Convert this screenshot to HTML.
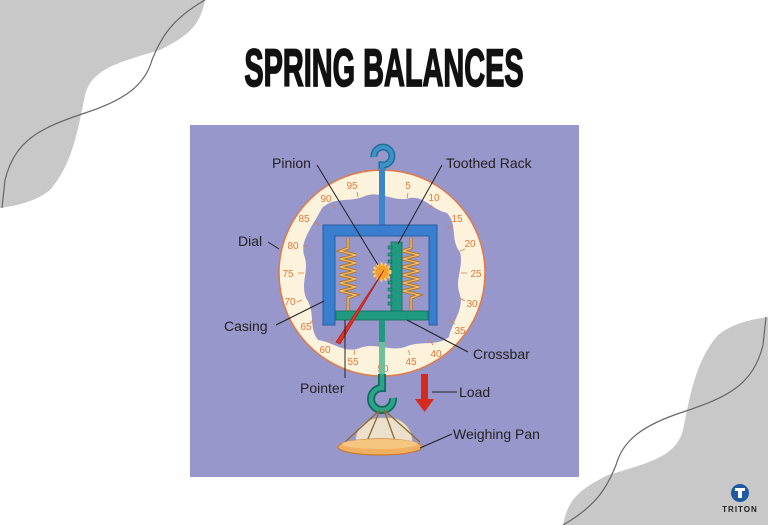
<!DOCTYPE html>
<html><head><meta charset="utf-8"><style>
html,body{margin:0;padding:0;background:#fff;}
svg{display:block;}
</style></head><body>
<svg width="768" height="525" viewBox="0 0 768 525" xmlns="http://www.w3.org/2000/svg" font-family="Liberation Sans, sans-serif">
<rect width="768" height="525" fill="#fff"/>
<g id="deco">
<path d="M0,0 L205,0 C200,25 190,35 160,50 C120,62 92,68 85,95 C78,130 72,165 50,190 C35,202 15,206 0,208 Z" fill="#c8c8c8"/>
<path d="M205,0 C170,20 160,40 152,60 C145,85 125,100 85,113 C40,128 15,140 5,180 L2,208" fill="none" stroke="#666" stroke-width="1.2"/>
</g>
<use href="#deco" transform="rotate(180 384 262.5)"/>
<text x="384" y="86" text-anchor="middle" font-size="53" font-weight="bold" fill="#111" transform="translate(384 0) scale(0.545 1) translate(-384 0)" stroke="#111" stroke-width="1.8">SPRING BALANCES</text>
<rect x="190" y="125" width="389" height="352" fill="#9797cb"/>
<!-- dial -->
<circle cx="382" cy="273" r="103" fill="#fdf3dc" stroke="#e07a4a" stroke-width="1.5"/>
<path d="M322,208 C335,196 350,203 365,196 C380,190 395,203 410,198 C425,196 432,210 447,213 C458,225 450,240 460,252 C464,268 454,280 460,295 C464,310 452,322 449,337 C437,347 420,340 405,347 C390,352 375,342 360,348 C345,354 333,342 318,340 C308,327 316,312 306,298 C300,282 310,270 304,255 C300,240 313,226 322,208 Z" fill="#9797cb"/>
<g font-size="10" fill="#e07a3a" text-anchor="middle" stroke="#e07a3a" stroke-width="0.8">
<g stroke="none">
<text x="408" y="189">5</text><text x="434" y="201">10</text><text x="457" y="222">15</text><text x="470" y="247">20</text><text x="476" y="277">25</text><text x="472" y="307">30</text><text x="460" y="334">35</text><text x="436" y="357">40</text><text x="411" y="365">45</text><text x="383" y="372">50</text><text x="353" y="365">55</text><text x="325" y="353">60</text><text x="306" y="330">65</text><text x="290" y="305">70</text><text x="288" y="277">75</text><text x="293" y="249">80</text><text x="304" y="222">85</text><text x="326" y="202">90</text><text x="352" y="189">95</text>
</g>
<line x1="408" y1="193" x2="407" y2="198"/><line x1="432" y1="205" x2="429" y2="209"/><line x1="452" y1="226" x2="447" y2="229"/><line x1="465" y1="249" x2="460" y2="251"/><line x1="467" y1="273" x2="461" y2="273"/><line x1="460" y1="298" x2="465" y2="301"/><line x1="450" y1="320" x2="455" y2="324"/><line x1="430" y1="340" x2="433" y2="345"/><line x1="408" y1="350" x2="410" y2="355"/><line x1="355" y1="350" x2="354" y2="355"/><line x1="333" y1="338" x2="330" y2="343"/><line x1="314" y1="320" x2="310" y2="323"/><line x1="302" y1="300" x2="297" y2="302"/><line x1="298" y1="273" x2="304" y2="273"/><line x1="303" y1="245" x2="308" y2="247"/><line x1="315" y1="222" x2="319" y2="225"/><line x1="333" y1="205" x2="336" y2="209"/><line x1="357" y1="192" x2="358" y2="197"/>
</g>
<!-- hook top -->
<path d="M382,170 L382,165 A9,9 0 1 0 374,157" fill="none" stroke="#1f6f9a" stroke-width="7"/>
<path d="M382,170 L382,165 A9,9 0 1 0 374,157" fill="none" stroke="#3c92c4" stroke-width="4"/>
<rect x="379" y="168" width="6" height="60" fill="#3a86c8"/>
<!-- casing -->
<path d="M323,225 L437,225 L437,325 L429,325 L429,236 L335,236 L335,325 L323,325 Z" fill="#3a7ed0" stroke="#2a5fa0" stroke-width="1"/>
<!-- springs -->
<g fill="none" stroke="#b06f1a" stroke-width="3">
<path d="M348,238 L348,248 l-8,3 l16,4 l-16,4 l16,4 l-16,4 l16,4 l-16,4 l16,4 l-16,4 l16,4 l-16,4 l16,4 l-8,3 L348,312"/>
<path d="M411,238 L411,248 l-8,3 l16,4 l-16,4 l16,4 l-16,4 l16,4 l-16,4 l16,4 l-16,4 l16,4 l-16,4 l16,4 l-8,3 L411,312"/>
</g>
<g fill="none" stroke="#f2c070" stroke-width="1.3">
<path d="M348,238 L348,248 l-8,3 l16,4 l-16,4 l16,4 l-16,4 l16,4 l-16,4 l16,4 l-16,4 l16,4 l-16,4 l16,4 l-8,3 L348,312"/>
<path d="M411,238 L411,248 l-8,3 l16,4 l-16,4 l16,4 l-16,4 l16,4 l-16,4 l16,4 l-16,4 l16,4 l-16,4 l16,4 l-8,3 L411,312"/>
</g>
<!-- rack -->
<rect x="391" y="242" width="11" height="70" fill="#1f9a80" stroke="#146b58" stroke-width="0.8"/>
<g fill="#1f9a80" stroke="#146b58" stroke-width="0.6">
<rect x="388" y="246" width="4" height="3"/><rect x="388" y="253" width="4" height="3"/><rect x="388" y="260" width="4" height="3"/><rect x="388" y="267" width="4" height="3"/><rect x="388" y="274" width="4" height="3"/><rect x="388" y="281" width="4" height="3"/><rect x="388" y="288" width="4" height="3"/><rect x="388" y="295" width="4" height="3"/><rect x="388" y="302" width="4" height="3"/>
</g>
<!-- crossbar -->
<rect x="336" y="311" width="92" height="9" fill="#1f9a80" stroke="#146b58" stroke-width="0.8"/>
<rect x="379" y="320" width="6" height="22" fill="#1f9a80"/>
<rect x="379" y="342" width="6" height="35" fill="#6fc09a"/>
<!-- pinion -->
<circle cx="382" cy="272" r="8" fill="#f2a030" stroke="#fbd070" stroke-width="3" stroke-dasharray="2 2"/>
<circle cx="382" cy="272" r="6" fill="#f2a030"/>
<path d="M384,270 L336,342 L340,344 Z" fill="#e03020" stroke="#a01810" stroke-width="0.6"/>
<!-- bottom hook -->
<path d="M382,374 L382,388 A11,11 0 1 0 393,398" fill="none" stroke="#136b5a" stroke-width="8"/>
<path d="M382,374 L382,388 A11,11 0 1 0 393,398" fill="none" stroke="#2aa58a" stroke-width="4.5"/>
<!-- pan -->
<path d="M356,443 C354,425 372,416 385,418 C402,416 414,430 412,443 Z" fill="#ece0cc" stroke="#cbb59a" stroke-width="0.8"/>
<g stroke="#8a6a30" stroke-width="1.3"><line x1="380" y1="410" x2="345" y2="442"/><line x1="380" y1="410" x2="365" y2="446"/><line x1="384" y1="410" x2="397" y2="446"/><line x1="384" y1="410" x2="420" y2="442"/></g>
<ellipse cx="380" cy="447" rx="42" ry="8" fill="#f0b060" stroke="#c77a30" stroke-width="1.2"/>
<ellipse cx="380" cy="444" rx="38" ry="5" fill="#f5c680"/>
<!-- load arrow -->
<rect x="421" y="374" width="7" height="26" fill="#d52a1c"/>
<path d="M415,399 L434,399 L424.5,412 Z" fill="#d52a1c"/>
<!-- leaders -->
<g stroke="#222" stroke-width="1" fill="none">
<line x1="317" y1="165" x2="378" y2="265"/>
<line x1="442" y1="165" x2="398" y2="244"/>
<line x1="268" y1="242" x2="279" y2="249"/>
<line x1="276" y1="325" x2="324" y2="301"/>
<line x1="468" y1="352" x2="407" y2="320"/>
<line x1="345" y1="320" x2="345" y2="378"/>
<line x1="432" y1="392" x2="457" y2="392"/>
<line x1="420" y1="448" x2="452" y2="434"/>
</g>
<g font-size="14" fill="#222">
<text x="272" y="168">Pinion</text>
<text x="446" y="168">Toothed Rack</text>
<text x="238" y="246">Dial</text>
<text x="224" y="331">Casing</text>
<text x="473" y="359">Crossbar</text>
<text x="300" y="393">Pointer</text>
<text x="459" y="397">Load</text>
<text x="453" y="439">Weighing Pan</text>
</g>
<!-- logo -->
<circle cx="740" cy="493" r="9" fill="#1f5aa0"/>
<rect x="735" y="488" width="10" height="3" fill="#fff"/><rect x="738" y="490" width="4" height="8" fill="#fff"/>
<text x="740" y="512" font-size="8" font-weight="bold" fill="#222" text-anchor="middle" letter-spacing="1">TRITON</text>
</svg>
</body></html>
